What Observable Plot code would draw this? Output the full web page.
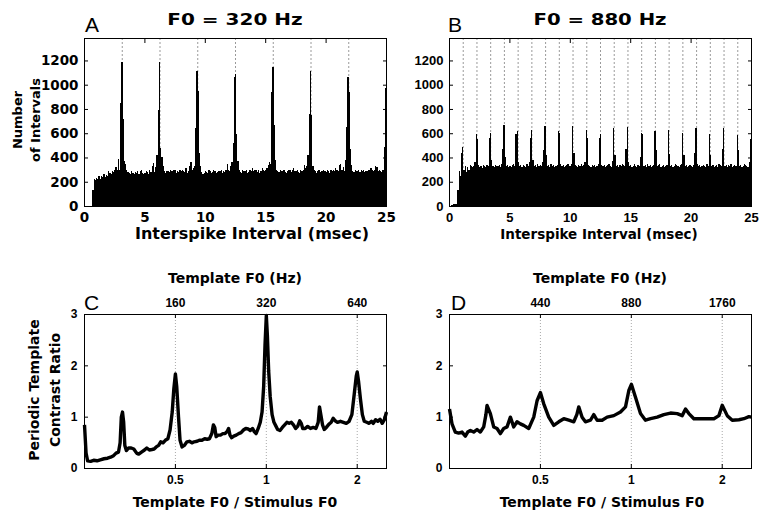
<!DOCTYPE html>
<html><head><meta charset="utf-8">
<script src="https://cdn.jsdelivr.net/npm/d3@7"></script>
<script src="https://cdn.jsdelivr.net/npm/@observablehq/plot@0.6"></script>
<style>
body{margin:0;background:#fff;}
#fig{position:relative;width:765px;height:514px;overflow:hidden;background:#fff;}
#fig > svg{position:absolute;}
</style></head><body><div id="fig"></div>
<script>
// ---------- data ----------
const binWidthMs = 0.1; // histogram bin width (msec)
// Panel A: interval counts, F0 = 320 Hz, bins of 0.1 ms from 0 to 25 ms
const countsA = [
  0,0,0,0,0,0,0,130,220,215,
  230,225,245,220,250,235,260,240,255,250,
  285,270,265,290,280,300,320,295,390,300,
  850,1190,720,370,350,300,280,270,260,290,
  275,260,280,270,290,265,285,300,270,260,
  275,290,280,265,300,280,330,355,280,320,
  420,790,1190,480,400,330,290,270,285,290,
  280,300,290,285,300,295,275,290,280,300,
  290,300,285,280,310,275,290,330,360,300,
  310,330,640,1110,950,440,330,280,260,270,
  290,280,275,300,285,270,280,300,290,275,
  280,290,285,300,270,290,280,300,350,300,
  290,330,360,520,1060,1085,590,370,300,280,
  275,300,285,290,295,270,280,300,285,310,
  290,300,295,280,300,270,290,310,300,290,
  300,310,340,360,350,940,1150,670,380,300,
  290,280,300,290,285,300,280,270,290,300,
  295,280,300,310,290,285,300,280,270,300,
  290,300,340,310,330,420,760,1115,750,330,
  300,285,270,290,300,280,290,285,300,290,
  280,300,290,270,300,285,300,290,310,300,
  290,340,350,300,320,290,380,650,1060,940,
  470,340,290,280,300,285,290,295,280,300,
  290,300,280,285,290,300,295,310,300,290,
  300,330,320,285,300,290,280,300,490,975
];
// Panel B: interval counts, F0 = 880 Hz
const countsB = [
  0,0,10,15,15,15,20,130,290,250,
  440,490,300,330,280,320,300,340,330,320,
  330,360,590,550,340,320,330,310,340,330,
  320,340,330,560,600,380,330,320,340,330,
  330,340,320,350,470,665,400,330,340,320,
  330,320,340,350,330,590,615,360,330,340,
  320,340,330,320,350,330,360,560,630,380,
  330,340,320,350,330,340,330,360,460,660,
  420,330,340,320,350,330,340,320,330,340,
  615,600,350,330,340,320,330,340,350,330,
  330,350,660,440,340,330,320,340,330,350,
  330,340,360,630,560,340,330,320,340,330,
  340,320,330,350,560,590,340,330,340,320,
  330,340,350,330,320,370,640,420,330,340,
  320,340,330,350,340,330,470,650,360,330,
  340,320,330,350,330,320,340,330,400,600,
  590,330,340,320,350,330,340,320,330,340,
  620,460,330,340,350,320,330,340,320,330,
  340,630,430,330,340,320,330,350,340,330,
  320,340,350,600,420,330,340,320,330,340,
  330,320,340,440,640,350,330,340,320,330,
  340,330,320,350,330,595,420,330,340,320,
  330,340,320,350,340,330,470,645,330,340,
  320,340,330,350,320,330,340,330,585,460,
  330,340,320,330,350,340,330,320,360,550
];
// stimulus periods (dotted lines), msec
const periodsA = [3.125, 6.25, 9.375, 12.5, 15.625, 18.75, 21.875, 25];
const periodsB = [1.136, 2.273, 3.409, 4.545, 5.682, 6.818, 7.955, 9.091, 10.227, 11.364, 12.5,
                  13.636, 14.773, 15.909, 17.045, 18.182, 19.318, 20.455, 21.591, 22.727, 23.864, 25.0];
const histYTicks = [0, 200, 400, 600, 800, 1000, 1200];
const histXTicks = [0, 5, 10, 15, 20, 25];

// Panel C: contrast ratio vs template F0 / stimulus F0 (stimulus 320 Hz)
const ratioC = [
  0.250,0.253,0.256,0.262,0.268,0.275,0.282,0.290,0.298,0.305,
  0.312,0.318,0.324,0.328,0.331,0.334,0.337,0.340,0.344,0.350,
  0.357,0.364,0.372,0.378,0.386,0.395,0.402,0.410,0.418,0.425,
  0.432,0.440,0.447,0.455,0.463,0.472,0.480,0.488,0.494,0.500,
  0.505,0.512,0.518,0.526,0.535,0.546,0.556,0.567,0.577,0.590,
  0.600,0.612,0.625,0.637,0.648,0.660,0.668,0.675,0.682,0.692,
  0.705,0.718,0.730,0.742,0.750,0.758,0.768,0.780,0.795,0.810,
  0.825,0.840,0.855,0.870,0.885,0.900,0.912,0.925,0.940,0.955,
  0.968,0.980,0.990,1.000,1.008,1.018,1.030,1.045,1.060,1.075,
  1.090,1.110,1.130,1.150,1.170,1.190,1.210,1.230,1.250,1.270,
  1.290,1.305,1.320,1.345,1.370,1.400,1.430,1.460,1.485,1.500,
  1.515,1.535,1.555,1.580,1.610,1.640,1.665,1.690,1.720,1.760,
  1.800,1.840,1.880,1.920,1.955,1.985,2.000,2.020,2.050,2.080,
  2.110,2.150,2.190,2.230,2.260,2.300,2.340,2.380,2.420,2.460,2.500
];
const contrastC = [
  0.85,0.30,0.15,0.14,0.16,0.15,0.17,0.19,0.20,0.22,
  0.25,0.30,0.32,0.50,1.00,1.10,0.90,0.45,0.35,0.40,
  0.40,0.38,0.30,0.28,0.32,0.36,0.40,0.36,0.37,0.38,
  0.42,0.45,0.52,0.50,0.55,0.58,0.75,1.10,1.55,1.84,
  1.60,1.00,0.55,0.42,0.45,0.52,0.53,0.50,0.52,0.53,
  0.55,0.55,0.58,0.57,0.58,0.68,0.85,0.80,0.62,0.65,
  0.65,0.68,0.68,0.72,0.78,0.65,0.60,0.63,0.65,0.68,
  0.70,0.75,0.78,0.77,0.74,0.78,0.72,0.68,0.78,0.90,
  1.10,1.60,2.40,2.98,2.60,1.90,1.40,1.05,0.90,0.83,
  0.76,0.74,0.80,0.85,0.90,0.88,0.90,0.85,0.78,0.82,
  0.93,0.88,0.78,0.78,0.82,0.78,0.80,0.78,0.90,1.20,
  1.05,0.85,0.76,0.80,0.86,0.90,0.98,0.93,0.90,0.92,
  0.90,0.88,0.92,1.05,1.45,1.80,1.88,1.70,1.35,1.05,
  0.92,0.90,0.88,0.92,0.88,0.95,0.92,0.96,0.88,0.95,1.10
];
// Panel D: stimulus 880 Hz
const ratioD = [
  0.2500,0.2548,0.2613,0.2681,0.2750,0.2821,0.2872,0.2931,0.3006,0.3084,
  0.3163,0.3245,0.3300,0.3328,0.3414,0.3502,0.3592,0.3684,0.3779,0.3877,
  0.3977,0.4079,0.4184,0.4292,0.4402,0.4574,0.4752,0.4874,0.5000,0.5129,
  0.5328,0.5536,0.5751,0.5975,0.6207,0.6448,0.6600,0.6698,0.6871,0.7048,
  0.7322,0.7511,0.7704,0.8004,0.8316,0.8750,0.9207,0.9566,0.9812,1.0006,
  1.0323,1.0724,1.1141,1.1575,1.2179,1.2815,1.3484,1.4188,1.4739,1.5118,
  1.5507,1.6110,1.6954,1.7839,1.8771,1.9499,2.0000,2.0777,2.1588,2.2715,2.3595,2.4513,2.5000
];
const contrastD = [
  1.16,0.87,0.71,0.69,0.71,0.63,0.71,0.74,0.71,0.76,
  0.71,0.81,1.05,1.23,1.07,0.81,0.78,0.68,0.78,0.81,
  1.00,0.81,0.91,0.87,0.84,0.78,1.00,1.32,1.48,1.26,
  1.00,0.84,0.91,0.97,0.94,0.91,1.05,1.20,1.00,0.91,
  0.94,1.05,0.94,0.94,1.00,1.03,1.10,1.20,1.52,1.64,
  1.39,1.07,0.94,0.97,1.00,1.05,1.08,1.07,1.03,1.16,
  1.07,0.97,0.97,0.97,0.97,1.03,1.23,1.03,0.94,0.95,0.97,1.01,1.00
];
const ratioTicks = [0.5, 1, 2];
const contrastTicks = [0, 1, 2, 3];
const stimulusF0 = {C: 320, D: 880};

const titles = ["F0 = 320 Hz", "F0 = 880 Hz"];
const letters = ["A", "B", "C", "D"];
const histXLabel = "Interspike Interval (msec)";
const histYLabel = ["Number", "of Intervals"];
const ratioTopLabel = "Template F0 (Hz)";
const ratioBottomLabel = "Template F0 / Stimulus F0";
const ratioYLabel = ["Periodic Template", "Contrast Ratio"];

// ---------- drawing ----------
const fig = document.getElementById("fig");
const plain = d => String(d);

function place(svg, left, top) {
  svg.style.position = "absolute";
  svg.style.left = left + "px";
  svg.style.top = top + "px";
  fig.appendChild(svg);
}

function histPanel(counts, periods, box, font) {
  const bins = counts.map((n, i) => ({t0: i * binWidthMs, t1: (i + 1) * binWidthMs, n}));
  const svg = Plot.plot({
    width: box.w, height: box.h,
    marginLeft: box.ml, marginRight: box.mr, marginTop: 38, marginBottom: box.h - 206,
    style: {fontFamily: font.family, fontSize: font.size + "px", fontWeight: "bold",
            background: "transparent", color: "black", overflow: "visible"},
    x: {domain: [0, 25]},
    y: {domain: [0, 1385]},
    marks: [
      Plot.ruleX(periods, {stroke: "#9a9a9a", strokeWidth: 1, strokeDasharray: "2,2"}),
      Plot.rectY(bins, {x1: "t0", x2: "t1", y: "n", fill: "black", shapeRendering: "crispEdges"}),
      Plot.frame({stroke: "black", strokeWidth: 1}),
      Plot.axisY(histYTicks, {anchor: "left", tickSize: 0, tickPadding: 6, label: null, tickFormat: plain}),
      Plot.axisY(histYTicks.slice(1), {anchor: "left", tickSize: -4, fill: "none", label: null}),
      Plot.axisY(histYTicks.slice(1), {anchor: "right", tickSize: -4, fill: "none", label: null}),
      Plot.axisX(histXTicks, {anchor: "bottom", tickSize: 0, tickPadding: 6, label: null, tickFormat: plain}),
      Plot.axisX(histXTicks.slice(1, -1), {anchor: "top", tickSize: -4, fill: "none", label: null})
    ]
  });
  place(svg, box.left, box.top);
}

function ratioPanel(ratios, values, f0, box, font) {
  const pts = ratios.map((r, i) => ({r, v: values[i]}));
  const frameH = box.h - 24 - 46;
  const svg = Plot.plot({
    width: box.w, height: box.h,
    marginLeft: box.ml, marginRight: box.mr, marginTop: 24, marginBottom: 46,
    style: {fontFamily: font.family, fontSize: font.size + "px", fontWeight: "bold",
            background: "transparent", color: "black", overflow: "visible"},
    x: {type: "log", domain: [0.25, 2.5], axis: null},
    y: {domain: [0, 3]},
    marks: [
      Plot.ruleX(ratioTicks, {stroke: "#aaaaaa", strokeWidth: 1, strokeDasharray: "1,2"}),
      Plot.line(pts, {x: "r", y: "v", stroke: "black", strokeWidth: 3.4, strokeLinejoin: "round", strokeLinecap: "butt"}),
      Plot.frame({stroke: "black", strokeWidth: 1}),
      Plot.axisY(contrastTicks, {anchor: "left", tickSize: 0, tickPadding: 7, label: null, tickFormat: plain}),
      Plot.axisY([1, 2], {anchor: "left", tickSize: -4, fill: "none", label: null}),
      Plot.axisY([1, 2], {anchor: "right", tickSize: -4, fill: "none", label: null}),
      // log-axis ticks (inward) and labels
      Plot.tickX(ratioTicks, {x: d => d, stroke: "black", insetTop: frameH - 4}),
      Plot.tickX(ratioTicks, {x: d => d, stroke: "black", insetBottom: frameH - 4}),
      Plot.text(ratioTicks, {x: d => d, text: plain, frameAnchor: "bottom", dy: 12, lineAnchor: "middle", fill: "black"}),
      Plot.text(ratioTicks, {x: d => d, text: d => String(d * f0), frameAnchor: "top", dy: -11, lineAnchor: "middle", fill: "black"})
    ]
  });
  place(svg, box.left, box.top);
}

histPanel(countsA, periodsA, {left: 0, top: 0, w: 390, h: 250, ml: 84, mr: 4}, {family: "DejaVu Sans", size: 13.5});
histPanel(countsB, periodsB, {left: 390, top: 0, w: 375, h: 250, ml: 59, mr: 14}, {family: "Liberation Sans", size: 13});
ratioPanel(ratioC, contrastC, stimulusF0.C, {left: 0, top: 290, w: 390, h: 224, ml: 84, mr: 4}, {family: "Liberation Sans", size: 12});
ratioPanel(ratioD, contrastD, stimulusF0.D, {left: 390, top: 290, w: 375, h: 224, ml: 59, mr: 14}, {family: "Liberation Sans", size: 12});

// ---------- titles, letters and axis titles ----------
const over = d3.select(fig).append("svg")
  .attr("width", 765).attr("height", 514)
  .style("left", "0px").style("top", "0px");

function addText(s, x, y, o = {}) {
  over.append("text")
    .attr("transform", `translate(${x},${y}) rotate(${o.rotate || 0}) scale(${o.sx || 1},1)`)
    .attr("text-anchor", o.anchor || "middle")
    .attr("font-family", o.family || "DejaVu Sans")
    .attr("font-size", o.size || 14)
    .attr("font-weight", o.weight || "bold")
    .attr("fill", "black")
    .text(s);
}

addText(titles[0], 235, 25, {size: 16, sx: 1.25});
addText(titles[1], 600, 25, {size: 16, sx: 1.23});
addText(letters[0], 85, 32, {anchor: "start", family: "Liberation Sans", weight: "normal", size: 21});
addText(letters[1], 448, 32, {anchor: "start", family: "Liberation Sans", weight: "normal", size: 21});
addText(letters[2], 84, 310, {anchor: "start", family: "Liberation Sans", weight: "normal", size: 21});
addText(letters[3], 451, 310, {anchor: "start", family: "Liberation Sans", weight: "normal", size: 21});

addText(histXLabel, 252, 239, {size: 16});
addText(histXLabel, 599, 239, {size: 13.5});
addText(histYLabel[0], 22, 120, {size: 13, rotate: -90});
addText(histYLabel[1], 40, 120, {size: 13, rotate: -90});

addText(ratioTopLabel, 235, 283, {size: 14});
addText(ratioTopLabel, 600, 283, {size: 14});
addText(ratioBottomLabel, 235, 507, {size: 14});
addText(ratioBottomLabel, 602, 507, {size: 14});
addText(ratioYLabel[0], 39, 390, {size: 14, rotate: -90});
addText(ratioYLabel[1], 60, 390, {size: 14, rotate: -90});
</script>
</body></html>
